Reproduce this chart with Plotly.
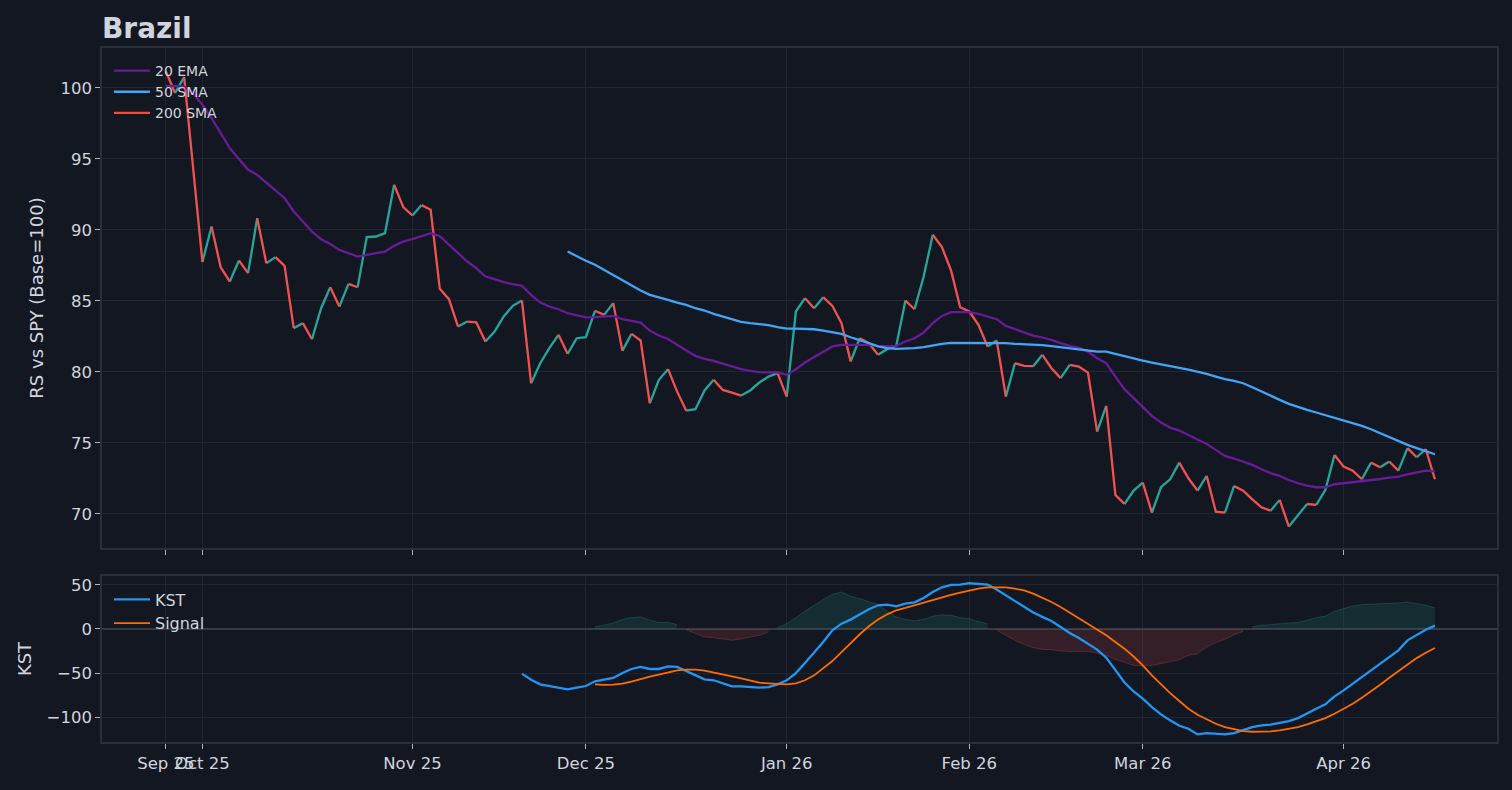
import pandas as pd
import plotly.graph_objects as go
from plotly.subplots import make_subplots

# Trading sessions shown on the axis (weekends and US market holidays skipped)
holidays = ["2025-11-27", "2025-12-25", "2026-01-01", "2026-01-19", "2026-02-16", "2026-04-03"]
dates = pd.bdate_range("2025-09-25", "2026-04-16", freq="C", holidays=holidays).strftime("%Y-%m-%d").tolist()

tick_dates = ["2025-09-25", "2025-10-01", "2025-11-03", "2025-12-01",
              "2026-01-02", "2026-02-02", "2026-03-02", "2026-04-01"]
tick_text = ["Sep 25", "Oct 25", "Nov 25", "Dec 25", "Jan 26", "Feb 26", "Mar 26", "Apr 26"]

# RS vs SPY (Base=100)
rs = [101.15, 99.63, 100.75, 94.2, 87.73, 90.23, 87.37, 86.36, 87.84, 86.95,
      90.82, 87.65, 88.08, 87.46, 83.08, 83.43, 82.30, 84.48, 85.96, 84.60,
      86.20, 85.96, 89.49, 89.53, 89.77, 93.17, 91.60, 91.01, 91.74, 91.41,
      85.85, 85.12, 83.19, 83.54, 83.48, 82.14, 82.84, 83.90, 84.65, 85.02,
      79.20, 80.61, 81.67, 82.61, 81.27, 82.37, 82.44, 84.30, 84.01, 84.84,
      81.48, 82.68, 82.21, 77.79, 79.44, 80.19, 78.61, 77.27, 77.37, 78.69,
      79.44, 78.73, 78.54, 78.33, 78.69, 79.25, 79.67, 79.91, 78.26, 84.25,
      85.19, 84.48, 85.26, 84.65, 83.43, 80.73, 82.37, 82.02, 81.20, 81.60,
      81.83, 85.02, 84.41, 86.71, 89.65, 88.78, 87.14, 84.55, 84.25, 83.31,
      81.79, 82.21, 78.26, 80.61, 80.42, 80.40, 81.20, 80.26, 79.56, 80.49,
      80.37, 79.95, 75.80, 77.61, 71.34, 70.70, 71.64, 72.20, 70.09, 71.88,
      72.44, 73.61, 72.51, 71.64, 72.68, 70.16, 70.09, 71.97, 71.64, 71.03,
      70.47, 70.23, 70.99, 69.11, 69.93, 70.70, 70.63, 71.69, 74.15, 73.33,
      73.05, 72.44, 73.61, 73.29, 73.69, 73.05, 74.63, 73.99, 74.56, 72.44]

ema20 = [100.14, 100.10, 100.10, 99.60, 98.80, 97.87, 96.80, 95.75, 94.98, 94.23,
         93.87, 93.29, 92.77, 92.23, 91.29, 90.58, 89.88, 89.34, 89.01, 88.59,
         88.36, 88.12, 88.24, 88.36, 88.47, 88.87, 89.18, 89.34, 89.58, 89.77,
         89.55, 88.94, 88.31, 87.77, 87.30, 86.71, 86.53, 86.32, 86.17, 86.06,
         85.42, 84.88, 84.60, 84.41, 84.13, 83.97, 83.83, 83.85, 83.87, 83.94,
         83.71, 83.59, 83.47, 82.91, 82.56, 82.32, 81.90, 81.50, 81.13, 80.92,
         80.77, 80.56, 80.37, 80.19, 80.07, 79.98, 79.96, 79.96, 79.79, 80.19,
         80.66, 81.03, 81.43, 81.79, 81.90, 81.90, 81.90, 81.90, 81.83, 81.79,
         81.83, 82.14, 82.37, 82.77, 83.43, 83.94, 84.20, 84.22, 84.20, 84.08,
         83.90, 83.71, 83.24, 83.00, 82.77, 82.56, 82.42, 82.25, 82.02, 81.83,
         81.71, 81.43, 80.96, 80.61, 79.67, 78.78, 78.15, 77.56, 76.90, 76.43,
         76.08, 75.87, 75.56, 75.21, 74.93, 74.51, 74.08, 73.90, 73.69, 73.45,
         73.15, 72.87, 72.68, 72.39, 72.16, 71.99, 71.88, 71.88, 72.09, 72.16,
         72.23, 72.28, 72.39, 72.46, 72.56, 72.63, 72.79, 72.91, 73.05, 73.00]

sma50 = [None] * 44 + [
    88.47, 88.12, 87.82, 87.54, 87.18, 86.83, 86.43, 86.08, 85.73, 85.42,
    85.26, 85.07, 84.88, 84.72, 84.48, 84.32, 84.08, 83.90, 83.71, 83.52,
    83.43, 83.36, 83.29, 83.15, 83.05, 83.05, 83.03, 83.00, 82.91, 82.82,
    82.68, 82.44, 82.25, 82.02, 81.79, 81.67, 81.62, 81.62, 81.67, 81.74,
    81.86, 81.97, 82.04, 82.04, 82.02, 82.00, 82.04, 82.04, 82.02, 81.97,
    81.95, 81.93, 81.88, 81.81, 81.74, 81.65, 81.60, 81.55, 81.43, 81.43,
    81.27, 81.08, 80.94, 80.80, 80.66, 80.52, 80.40, 80.28, 80.16, 80.02,
    79.86, 79.67, 79.49, 79.37, 79.20, 78.92, 78.61, 78.33, 78.03, 77.75,
    77.51, 77.32, 77.14, 76.95, 76.81, 76.62, 76.43, 76.20, 75.96, 75.68,
    75.37, 75.09, 74.86, 74.63, 74.39, 74.20]

# not enough history for the 200 SMA in this window
sma200 = [None] * len(dates)

# KST panel
kst = [None] * 39 + [
    -50.6, -57.4, -62.7, -64.6, -65.7, -68.4, -66.5, -64.6, -59.3, -57.0,
    -55.5, -49.9, -45.3, -43.0, -45.3, -45.3, -42.3, -43.0, -47.9, -52.5,
    -57.0, -58.1, -61.9, -64.9, -64.9, -66.1, -66.5, -65.8, -62.7, -58.2,
    -49.9, -38.5, -27.2, -14.7, -1.5, 6.0, 10.6, 16.6, 22.3, 26.8,
    27.6, 25.7, 28.7, 30.2, 35.1, 41.9, 47.2, 49.9, 50.3, 51.8,
    51.0, 50.3, 44.6, 38.2, 31.8, 25.0, 18.6, 13.7, 9.1, 2.3,
    -4.5, -10.2, -16.6, -23.4, -32.5, -46.8, -60.6, -70.8, -78.9, -88.4,
    -96.7, -103.5, -109.6, -113.0, -119.4, -117.9, -118.3, -119.4, -117.9, -114.9,
    -111.1, -109.2, -108.4, -106.2, -104.3, -100.9, -95.2, -90.3, -85.4, -76.3,
    -69.5, -61.9, -54.4, -47.6, -39.3, -31.7, -24.2, -12.9, -7.2, -0.8, 3.8]

signal = [None] * 47 + [
    -62.7, -63.4, -63.0, -61.9, -59.7, -56.7, -54.0, -51.7, -49.1, -46.8,
    -46.1, -46.1, -47.2, -49.1, -51.4, -53.6, -55.9, -58.5, -60.8, -61.5,
    -62.3, -62.7, -61.5, -58.1, -52.5, -44.9, -36.3, -26.1, -15.9, -6.0,
    3.0, 10.6, 16.6, 21.2, 23.8, 26.8, 29.9, 33.3, 36.3, 38.5,
    41.2, 43.8, 45.7, 47.2, 47.6, 47.2, 45.7, 43.8, 40.1, 35.5,
    30.6, 25.0, 18.6, 12.5, 6.1, -0.3, -7.1, -14.7, -22.3, -31.2,
    -41.2, -52.5, -62.7, -72.6, -81.6, -90.3, -97.1, -102.4, -107.3, -111.1,
    -113.7, -115.6, -116.4, -116.4, -116.0, -114.9, -113.4, -111.1, -108.1, -104.7,
    -100.9, -96.0, -90.7, -84.6, -77.8, -70.7, -63.1, -55.2, -47.5, -40.0,
    -33.0, -27.0, -21.5]

hist = [None] * 47 + [
    2.3, 4.2, 6.8, 10.6, 12.9, 13.6, 9.9, 7.2, 7.6, 4.9,
    -1.0, -5.3, -9.1, -9.8, -11.0, -12.9, -11.3, -9.1, -7.2, -3.4,
    1.5, 6.0, 12.8, 20.4, 26.8, 33.3, 39.3, 41.9, 37.0, 34.4,
    31.4, 27.6, 20.4, 13.6, 11.0, 9.1, 11.0, 14.4, 15.9, 15.5,
    12.8, 11.7, 8.3, 6.0, -1.5, -7.2, -12.9, -17.4, -21.2, -23.1,
    -23.4, -25.0, -25.7, -25.7, -25.7, -27.2, -29.9, -34.4, -37.8, -41.2,
    -41.9, -41.2, -39.3, -37.4, -34.8, -29.9, -27.9, -20.4, -15.5, -11.7,
    -6.4, -2.6, 2.3, 4.2, 4.9, 6.0, 6.8, 7.2, 9.8, 12.8,
    14.4, 20.0, 23.1, 26.1, 27.6, 28.0, 28.7, 29.5, 29.5, 30.6,
    28.7, 26.8, 23.8]

BG = "#131722"
GRID = "#20242f"
SPINE = "#2a2e39"
TXT = "#d1d4dc"
FONT = "DejaVu Sans"
UP, DOWN = "#26a69a", "#ef5350"


def rs_runs(values, rising):
    # consecutive segments going the same way, split by None
    xs, ys = [], []
    prev_in = False
    for i in range(1, len(values)):
        is_in = (values[i] >= values[i - 1]) == rising
        if is_in:
            if not prev_in:
                if xs:
                    xs.append(dates[i - 1])
                    ys.append(None)
                xs.append(dates[i - 1])
                ys.append(values[i - 1])
            xs.append(dates[i])
            ys.append(values[i])
        prev_in = is_in
    return xs, ys


def sign_runs(values, positive):
    # contiguous stretches of the histogram on one side of zero
    out, cur = [], []
    for d, v in zip(dates, values):
        ok = v is not None and ((v >= 0) if positive else (v < 0))
        if ok:
            cur.append((d, v))
        elif cur:
            out.append(cur)
            cur = []
    if cur:
        out.append(cur)
    return out


fig = make_subplots(rows=2, cols=1, shared_xaxes=True)

# Top: RS line coloured by direction + moving averages
for rising, col in [(True, UP), (False, DOWN)]:
    xs, ys = rs_runs(rs, rising)
    fig.add_trace(go.Scatter(x=xs, y=ys, mode="lines", line=dict(color=col, width=2.3),
                             showlegend=False, hoverinfo="skip"), row=1, col=1)

fig.add_trace(go.Scatter(x=dates, y=ema20, mode="lines", name="20 EMA",
                         line=dict(color="#6a1b9a", width=2.3), legend="legend"), row=1, col=1)
fig.add_trace(go.Scatter(x=dates, y=sma50, mode="lines", name="50 SMA",
                         line=dict(color="#42a5f5", width=2.3), legend="legend"), row=1, col=1)
fig.add_trace(go.Scatter(x=dates, y=sma200, mode="lines", name="200 SMA",
                         line=dict(color="#ef4b3f", width=2.3), legend="legend"), row=1, col=1)

# Bottom: KST histogram fill, KST and signal
for positive, rgb in [(True, "38,166,154"), (False, "239,83,80")]:
    for run in sign_runs(hist, positive):
        fig.add_trace(go.Scatter(x=[d for d, _ in run], y=[v for _, v in run], mode="lines",
                                 fill="tozeroy", fillcolor=f"rgba({rgb},0.15)",
                                 line=dict(color=f"rgba({rgb},0.25)", width=1),
                                 showlegend=False, hoverinfo="skip"), row=2, col=1)
fig.add_trace(go.Scatter(x=dates, y=kst, mode="lines", name="KST",
                         line=dict(color="#2196f3", width=2.3), legend="legend2"), row=2, col=1)
fig.add_trace(go.Scatter(x=dates, y=signal, mode="lines", name="Signal",
                         line=dict(color="#ff6d00", width=1.8), legend="legend2"), row=2, col=1)

axis_common = dict(showline=True, mirror=True, linecolor=SPINE, linewidth=1.5,
                   gridcolor=GRID, gridwidth=1, ticks="outside", ticklen=5, tickwidth=1.3,
                   tickcolor="#b2b5be", tickfont=dict(family=FONT, size=16.5, color=TXT))

fig.update_xaxes(type="category", categoryorder="array", categoryarray=dates,
                 range=[-7.0, len(dates) - 1 + 6.8], tickangle=0,
                 tickmode="array", tickvals=tick_dates, ticktext=tick_text, **axis_common)
fig.update_xaxes(showticklabels=False, row=1, col=1)
fig.update_yaxes(zeroline=False, **axis_common)

fig.update_yaxes(domain=[0.2795, 1.0], range=[67.6, 102.8], dtick=5,
                 title=dict(text="RS vs SPY (Base=100)", standoff=12,
                            font=dict(family=FONT, size=18, color=TXT)), row=1, col=1)
fig.update_yaxes(domain=[0.0, 0.2392], range=[-128, 60], dtick=50,
                 zeroline=True, zerolinecolor="#363a45", zerolinewidth=1.5,
                 title=dict(text="KST", standoff=10,
                            font=dict(family=FONT, size=18, color=TXT)), row=2, col=1)

fig.update_layout(
    width=1512,
    height=790,
    paper_bgcolor=BG,
    plot_bgcolor=BG,
    margin=dict(l=102, r=15, t=48, b=48),
    font=dict(family=FONT, color=TXT),
    title=dict(text="Brazil", x=0.0, xref="paper", xanchor="left",
               y=1 - 28 / 790, yref="container", yanchor="middle",
               font=dict(family=FONT, size=28, color=TXT, weight="bold")),
    legend=dict(x=0.005, y=0.99, xanchor="left", yanchor="top", bgcolor="rgba(0,0,0,0)",
                itemwidth=36, font=dict(family=FONT, size=14, color=TXT)),
    legend2=dict(x=0.005, y=0.230, xanchor="left", yanchor="top", bgcolor="rgba(0,0,0,0)",
                 itemwidth=36, font=dict(family=FONT, size=16, color=TXT)),
    showlegend=True,
)

# page body has a default margin; drop it so the figure sits at the window origin
fig.write_html("out.html", config={"displayModeBar": False},
               post_script="document.body.style.margin='0';")
